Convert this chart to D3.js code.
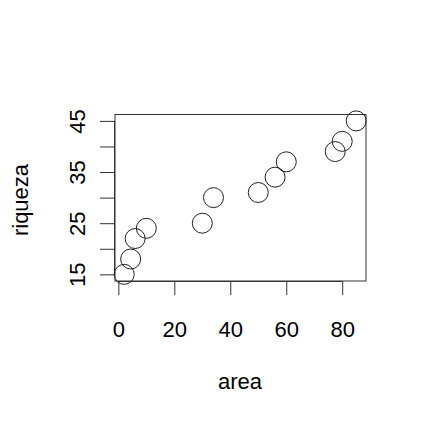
<!DOCTYPE html>
<html><head><meta charset="utf-8">
<script src="https://cdn.jsdelivr.net/npm/d3@7"></script>
<style>body{margin:0;background:#fff}svg{display:block}text{font-family:"Liberation Sans",Arial,sans-serif;fill:#000}</style>
</head><body>
<script>
const area = [2.1, 4.4, 6, 10, 30, 34, 50, 56, 60, 77.5, 80, 85];
const riqueza = [15, 18, 22, 24, 25, 30, 31, 34, 37, 39, 41, 45];
const xTicks = [0, 20, 40, 60, 80];
const yTicks = [15, 20, 25, 30, 35, 40, 45];
const yLabels = [15, 25, 35, 45];

const W = 425, H = 424;
const svg = d3.select("body").append("svg").attr("width", W).attr("height", H);
const L = 115, R = 366, T = 114.5, B = 281;
const x = d3.scaleLinear().domain([-1.2, 88.5]).range([L, R]);
const y = d3.scaleLinear().domain([13.7, 46.25]).range([B, T]);

svg.append("rect").attr("x", L).attr("y", T).attr("width", R - L).attr("height", B - T)
  .attr("fill", "none").attr("stroke", "#333").attr("stroke-width", 1);

const xa = svg.append("g").attr("transform", `translate(0,${B})`)
  .call(d3.axisBottom(x).tickValues(xTicks).tickSize(14).tickPadding(26).tickFormat(d3.format("d")));
xa.select(".domain").attr("d", `M${x(0)},0.5H${x(80)}`).attr("stroke", "#333");
xa.selectAll(".tick line").attr("stroke", "#333");
xa.selectAll("text").attr("font-size", 22).attr("fill", "#000");

const ya = svg.append("g").attr("transform", `translate(${L},0)`)
  .call(d3.axisLeft(y).tickValues(yTicks).tickSize(15).tickFormat(d => yLabels.includes(d) ? d : ""));
ya.select(".domain").attr("d", `M-0.5,${y(15)}V${y(45)}`).attr("stroke", "#333");
ya.selectAll(".tick line").attr("stroke", "#333");
ya.selectAll(".tick text").attr("font-size", 22).attr("fill", "#000")
  .attr("transform", "rotate(-90)").attr("x", 0).attr("y", -30).attr("dy", 0)
  .attr("text-anchor", "middle");

svg.append("g").selectAll("circle").data(area).join("circle")
  .attr("cx", (d) => x(d)).attr("cy", (d, i) => y(riqueza[i])).attr("r", 10)
  .attr("fill", "none").attr("stroke", "#222").attr("stroke-width", 1);

svg.append("text").attr("x", 240).attr("y", 389).attr("text-anchor", "middle")
  .attr("font-size", 22).text("area");
svg.append("text").attr("transform", "translate(28,200) rotate(-90)").attr("text-anchor", "middle")
  .attr("font-size", 22).text("riqueza");
</script>
</body></html>
